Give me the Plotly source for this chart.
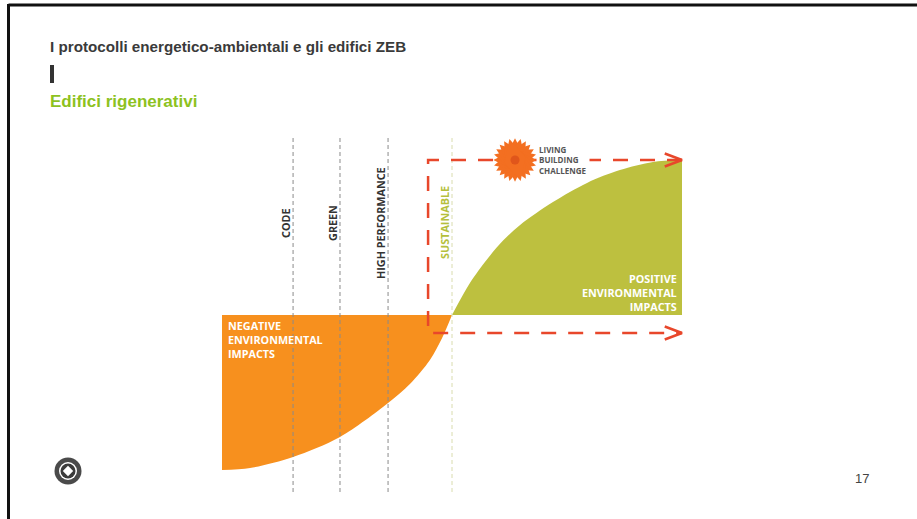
import plotly.graph_objects as go

# ---------------- data ----------------
# performance axis: -1 = start of chart, 0 = "sustainable" threshold, 1 = regenerative
neg_x = [-1.0, -0.878, -0.691, -0.487, -0.278, -0.183, -0.096, -0.043, 0.0]
neg_y = [-1.0, -0.987, -0.916, -0.787, -0.568, -0.445, -0.290, -0.148, 0.0]
pos_x = [0.0, 0.078, 0.152, 0.222, 0.296, 0.439, 0.587, 0.730, 0.874, 1.0]
pos_y = [0.0, 0.206, 0.358, 0.480, 0.581, 0.729, 0.852, 0.935, 0.987, 1.0]

levels = ["CODE", "GREEN", "HIGH PERFORMANCE", "SUSTAINABLE"]
level_x = [-0.691, -0.487, -0.278, 0.0]
level_colors = ["#333333", "#333333", "#333333", "#B5BF3C"]
line_colors = ["#8a8a8a", "#8a8a8a", "#8a8a8a", "#d9dcae"]
level_span = [-1.142, 1.161]

bracket_x = [1.0, -0.104, -0.104, 1.0]
bracket_y = [1.0, 1.0, -0.116, -0.116]

neg_label = "NEGATIVE<br>ENVIRONMENTAL<br>IMPACTS"
pos_label = "POSITIVE<br>ENVIRONMENTAL<br>IMPACTS"
lbc_label = "LIVING<br>BUILDING<br>CHALLENGE"
title = "I protocolli energetico-ambientali e gli edifici ZEB"
subtitle = "Edifici rigenerativi"
page_no = "17"

ORANGE = "#F7901E"
OLIVE = "#BDC03F"
RED = "#E8472B"
LABEL_FONT = "Open Sans"

W, H = 917, 519
# pixel mapping: x0=452px, 230px per unit ; y0=315px, 155px per unit
X_RANGE = [(0 - 452) / 230, (W - 452) / 230]
Y_RANGE = [(315 - H) / 155, (315 - 0) / 155]

fig = go.Figure()

# negative impact area
fig.add_trace(go.Scatter(x=neg_x, y=neg_y, mode="lines", fill="tozeroy",
                         fillcolor=ORANGE, line=dict(width=0, color=ORANGE, shape="spline", smoothing=0.9),
                         hoverinfo="skip"))
# positive impact area
fig.add_trace(go.Scatter(x=pos_x, y=pos_y, mode="lines", fill="tozeroy",
                         fillcolor=OLIVE, line=dict(width=0, color=OLIVE, shape="spline", smoothing=0.9),
                         hoverinfo="skip"))

# vertical dashed level lines + labels
for name, lx, tc, lc in zip(levels, level_x, level_colors, line_colors):
    fig.add_trace(go.Scatter(x=[lx, lx], y=level_span, mode="lines",
                             line=dict(color=lc, width=1, dash="4px,3px"),
                             hoverinfo="skip"))
    fig.add_annotation(x=lx, y=0.594, xref="x", yref="y", text="<b>" + name + "</b>",
                       textangle=-90, showarrow=False, xshift=-7,
                       font=dict(family=LABEL_FONT, size=10.8, color=tc))

# red dashed bracket
fig.add_trace(go.Scatter(x=bracket_x, y=bracket_y, mode="lines",
                         line=dict(color=RED, width=2.5, dash="15px,12px"),
                         hoverinfo="skip"))
# chevron arrow heads
ax = bracket_x[0]
for ay in (bracket_y[0], bracket_y[-1]):
    fig.add_trace(go.Scatter(x=[ax - 0.075, ax, ax - 0.075],
                             y=[ay + 0.042, ay, ay - 0.042], mode="lines",
                             line=dict(color=RED, width=2.5), hoverinfo="skip"))

# Living Building Challenge flower
fx, fy = 0.274, 1.0
for ang in range(0, 180, 15):
    fig.add_trace(go.Scatter(x=[fx], y=[fy], mode="markers",
                             marker=dict(symbol="diamond-tall", size=31, angle=ang,
                                         color="#F36F21", line=dict(width=0)),
                             hoverinfo="skip"))
fig.add_trace(go.Scatter(x=[fx], y=[fy], mode="markers",
                         marker=dict(symbol="circle", size=9, color="#E0561B",
                                     line=dict(width=0)), hoverinfo="skip"))
fig.add_annotation(x=0.365, y=1.0, xref="x", yref="y", text="<b>" + lbc_label + "</b>",
                   showarrow=False, xanchor="left", yanchor="middle", align="left",
                   bgcolor="white", borderpad=2,
                   font=dict(family=LABEL_FONT, size=8, color="#555555"))

# area labels
fig.add_annotation(x=-1.0, y=-0.155, xref="x", yref="y", text="<b>" + neg_label + "</b>",
                   showarrow=False, xanchor="left", yanchor="middle", align="left", xshift=4,
                   font=dict(family=LABEL_FONT, size=10.8, color="white"))
fig.add_annotation(x=1.0, y=0.142, xref="x", yref="y", text="<b>" + pos_label + "</b>",
                   showarrow=False, xanchor="right", yanchor="middle", align="right", xshift=-3,
                   font=dict(family=LABEL_FONT, size=10.8, color="white"))

# page texts
fig.add_annotation(x=48 / W, y=1 - 46 / H, xref="paper", yref="paper", text="<b>" + title + "</b>",
                   showarrow=False, xanchor="left", yanchor="middle",
                   font=dict(family="Liberation Sans", size=15.2, color="#3a3a3a"))
fig.add_annotation(x=48 / W, y=1 - 101 / H, xref="paper", yref="paper", text="<b>" + subtitle + "</b>",
                   showarrow=False, xanchor="left", yanchor="middle",
                   font=dict(family="Liberation Sans", size=17, color="#8DC21F"))
fig.add_annotation(x=862 / W, y=1 - 478 / H, xref="paper", yref="paper", text=page_no,
                   showarrow=False, xanchor="center", yanchor="middle",
                   font=dict(family="Liberation Sans", size=13, color="#444444"))

shapes = [
    # frame lines
    dict(type="line", xref="paper", yref="paper", x0=8.5 / W, x1=1, y0=1 - 5 / H, y1=1 - 5 / H,
         line=dict(color="#111111", width=3)),
    dict(type="line", xref="paper", yref="paper", x0=8.5 / W, x1=8.5 / W, y0=0, y1=1 - 4 / H,
         line=dict(color="#111111", width=3)),
    # section bar
    dict(type="rect", xref="paper", yref="paper", x0=50 / W, x1=54 / W, y0=1 - 83 / H, y1=1 - 65 / H,
         fillcolor="#333333", line=dict(width=0)),
]
fig.update_layout(shapes=shapes)

# logo
lx_, ly_ = (68 - 452) / 230, (315 - 471) / 155
for sym, size, col in (("circle", 27, "#4a4a4a"), ("circle", 18, "#ffffff"),
                       ("circle", 15, "#3a3a3a"), ("diamond", 8, "#ffffff")):
    fig.add_trace(go.Scatter(x=[lx_], y=[ly_], mode="markers",
                             marker=dict(symbol=sym, size=size, color=col, line=dict(width=0)),
                             hoverinfo="skip"))

fig.update_layout(
    width=W, height=H, margin=dict(l=0, r=0, t=0, b=0),
    paper_bgcolor="white", plot_bgcolor="white", showlegend=False,
    xaxis=dict(range=X_RANGE, visible=False, fixedrange=True),
    yaxis=dict(range=Y_RANGE, visible=False, fixedrange=True),
)

fig.write_html("out.html")
